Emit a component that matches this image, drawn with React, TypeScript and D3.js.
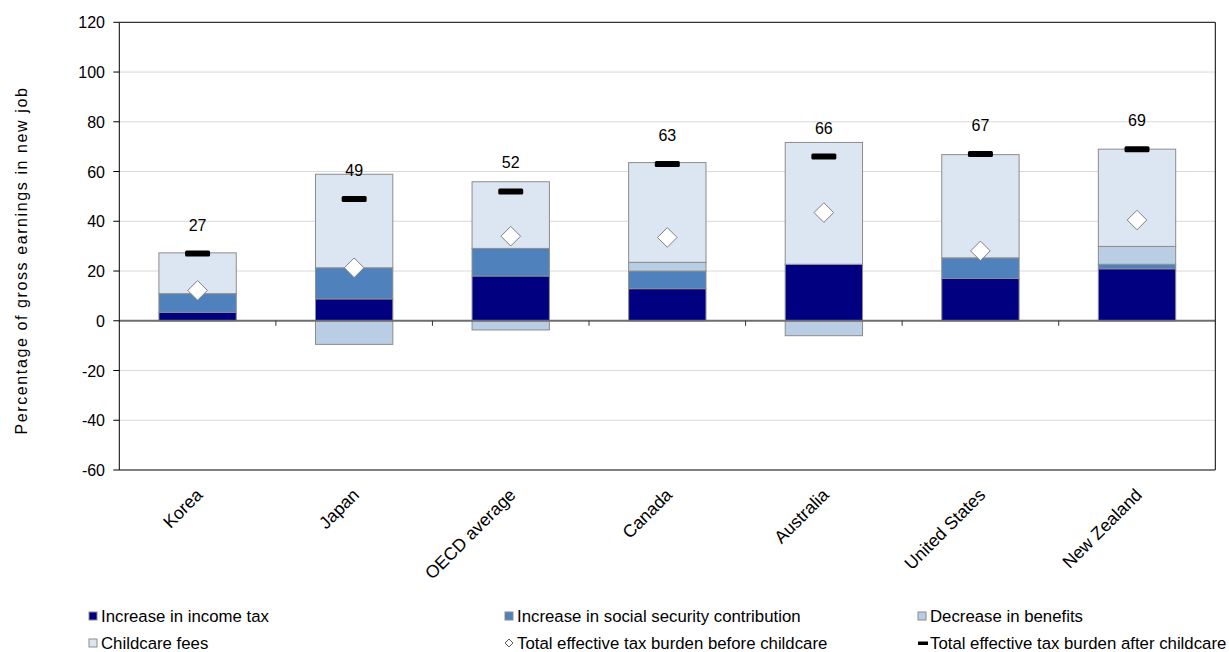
import React from "react";
import * as d3 from "d3";

// Cost of taking up a job for a second earner with children, by country
const categories = ["Korea", "Japan", "OECD average", "Canada", "Australia", "United States", "New Zealand"];
const incomeTax = [3.4, 8.8, 18.0, 12.9, 22.7, 17.0, 20.9];
const socialSecurity = [7.5, 12.5, 11.1, 7.1, 0, 8.3, 1.8];
const benefitsDecrease = [0, -9.5, -3.7, 3.5, -6.0, 0, 7.2];
const childcareFees = [16.4, 37.6, 26.8, 40.1, 49.0, 41.5, 39.1];
const burdenBefore = [12.2, 21.3, 34.0, 33.5, 43.5, 28.1, 40.5];
const burdenAfter = [27, 49, 52, 63, 66, 67, 69];
const yTicks = [-60, -40, -20, 0, 20, 40, 60, 80, 100, 120];

const seriesKeys = ["income", "ssc", "benefits", "childcare"];
const seriesNames = [
  "Increase in income tax",
  "Increase in social security contribution",
  "Decrease in benefits",
  "Childcare fees",
];
const seriesColors = ["#000080", "#4F81BD", "#B9CDE5", "#DCE6F2"];

const W = 1229;
const H = 652;
const plot = { left: 119.3, right: 1215.3, top: 22.3, bottom: 470 };
const FONT = "'Liberation Sans', Arial, sans-serif";

export default function App() {
  const x = d3
    .scaleBand<string>()
    .domain(categories)
    .range([plot.left, plot.right])
    .paddingInner(0.506)
    .paddingOuter(0.253);
  const band = d3.scaleBand<string>().domain(categories).range([plot.left, plot.right]);
  const y = d3.scaleLinear().domain([-60, 120]).range([plot.bottom, plot.top]);

  const rows = categories.map((c, i) => ({
    cat: c,
    income: incomeTax[i],
    ssc: socialSecurity[i],
    benefits: benefitsDecrease[i],
    childcare: childcareFees[i],
  }));
  const stacked = d3
    .stack<any>()
    .keys(seriesKeys)
    .order(d3.stackOrderNone)
    .offset(d3.stackOffsetDiverging)(rows);

  const bw = x.bandwidth();
  const cx = (c: string) => (x(c) as number) + bw / 2;
  const diamond = d3.symbol().type(d3.symbolDiamond2).size(245);

  const legendCols = [89, 505, 918];
  const legendRows = [622, 649];

  return (
    <svg
      width={W}
      height={H}
      style={{ position: "absolute", left: 0, top: 0, background: "#fff" }}
      fontFamily={FONT}
    >
      {/* gridlines */}
      {yTicks
        .filter((t) => t !== 0 && t !== 120 && t !== -60)
        .map((t) => (
          <line key={"g" + t} x1={plot.left} x2={plot.right} y1={y(t)} y2={y(t)} stroke="#d9d9d9" strokeWidth={1} />
        ))}

      {/* stacked bars */}
      {stacked.map((s, si) =>
        s.map((d, i) => {
          const h = Math.abs(y(d[0]) - y(d[1]));
          if (h < 0.01) return null;
          return (
            <rect
              key={s.key + i}
              x={x(categories[i])}
              y={Math.min(y(d[0]), y(d[1]))}
              width={bw}
              height={h}
              fill={seriesColors[si]}
              stroke="#8c8c8c"
              strokeWidth={1}
            />
          );
        })
      )}

      {/* zero line and category ticks */}
      <line x1={plot.left} x2={plot.right} y1={y(0)} y2={y(0)} stroke="#6e6e6e" strokeWidth={2} />
      {categories.slice(1).map((c) => (
        <line key={"t" + c} x1={band(c)} x2={band(c)} y1={y(0)} y2={y(0) + 5} stroke="#333" strokeWidth={1} />
      ))}

      {/* plot frame */}
      <line x1={plot.left} x2={plot.right} y1={plot.top} y2={plot.top} stroke="#000" strokeWidth={1} />
      <line x1={plot.right} x2={plot.right} y1={plot.top} y2={plot.bottom} stroke="#000" strokeWidth={1} />
      <line x1={plot.left} x2={plot.right} y1={plot.bottom} y2={plot.bottom} stroke="#555" strokeWidth={1.5} />
      <line x1={plot.left} x2={plot.left} y1={plot.top} y2={plot.bottom} stroke="#000" strokeWidth={1} />

      {/* y axis ticks and labels */}
      {yTicks.map((t) => (
        <g key={"y" + t}>
          <line x1={plot.left - 6} x2={plot.left} y1={y(t)} y2={y(t)} stroke="#000" strokeWidth={1} />
          <text x={105} y={y(t) + 6} textAnchor="end" fontSize={16} fill="#000">
            {t}
          </text>
        </g>
      ))}

      {/* y axis title */}
      <text
        transform={`translate(27,${(88 + 433) / 2}) rotate(-90)`}
        textAnchor="middle"
        fontSize={16}
        letterSpacing={1.6}
        fill="#000"
      >
        Percentage of gross earnings in new job
      </text>

      {/* category labels */}
      {categories.map((c) => (
        <text
          key={"c" + c}
          transform={`translate(${cx(c) + 6},${496}) rotate(-45)`}
          textAnchor="end"
          fontSize={17.6}
          fill="#000"
        >
          {c}
        </text>
      ))}

      {/* effective tax burden before childcare */}
      {categories.map((c, i) => (
        <path
          key={"d" + c}
          d={diamond() as string}
          transform={`translate(${cx(c)},${y(burdenBefore[i])})`}
          fill="#fff"
          stroke="#7f7f7f"
          strokeWidth={1}
        />
      ))}

      {/* effective tax burden after childcare */}
      {categories.map((c, i) => (
        <g key={"a" + c}>
          <rect x={cx(c) - 12.5} y={y(burdenAfter[i]) - 3} width={25} height={6} rx={1.5} fill="#000" />
          <text x={cx(c)} y={y(burdenAfter[i]) - 23} textAnchor="middle" fontSize={16} fill="#000">
            {burdenAfter[i]}
          </text>
        </g>
      ))}

      {/* legend */}
      <g fontSize={16.8} fill="#000">
        {seriesNames.slice(0, 3).map((n, i) => (
          <g key={"l" + i}>
            <rect x={legendCols[i]} y={legendRows[0] - 10} width={8} height={8} fill={seriesColors[i]} stroke="#8c8c8c" strokeWidth={1} />
            <text x={legendCols[i] + 12} y={legendRows[0]}>{n}</text>
          </g>
        ))}
        <rect x={legendCols[0]} y={legendRows[1] - 10} width={8} height={8} fill={seriesColors[3]} stroke="#8c8c8c" strokeWidth={1} />
        <text x={legendCols[0] + 12} y={legendRows[1]}>{seriesNames[3]}</text>
        <path
          d={d3.symbol().type(d3.symbolDiamond2).size(40)() as string}
          transform={`translate(${legendCols[1] + 4},${legendRows[1] - 6})`}
          fill="#fff"
          stroke="#555"
          strokeWidth={1}
        />
        <text x={legendCols[1] + 12} y={legendRows[1]}>Total effective tax burden before childcare</text>
        <rect x={legendCols[2]} y={legendRows[1] - 7.5} width={10} height={3.5} fill="#000" />
        <text x={legendCols[2] + 12} y={legendRows[1]}>Total effective tax burden after childcare</text>
      </g>
    </svg>
  );
}
